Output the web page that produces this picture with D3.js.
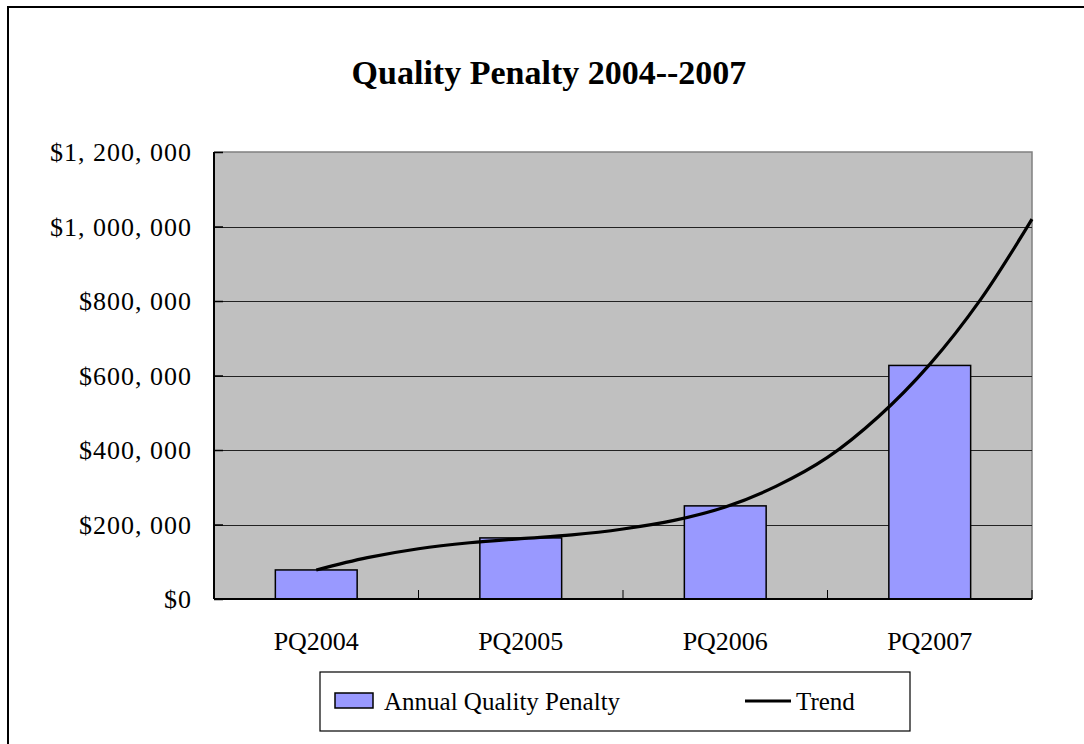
<!DOCTYPE html>
<html>
<head>
<meta charset="utf-8">
<script src="https://cdn.jsdelivr.net/npm/d3@7"></script>
<style>
  html, body { margin: 0; padding: 0; background: #fff; }
  svg { display: block; }
</style>
</head>
<body>
<svg id="chart" width="1084" height="744"></svg>
<script>
const title = "Quality Penalty 2004--2007";
const categories = ["PQ2004", "PQ2005", "PQ2006", "PQ2007"];
const penalty = [78000, 164000, 250000, 627000];
const seriesName = "Annual Quality Penalty";
const trendName = "Trend";
// trend line: position in category units (0 = PQ2004), value
const trendPos = [0, 0.25, 0.5, 0.75, 1.0, 1.25, 1.5, 1.75, 2.0, 2.25, 2.5, 2.75, 3.0, 3.25, 3.5];
const trendVals = [78000, 111000, 135000, 151000, 162000, 172000, 188000, 211000, 247000, 303000, 380000, 490000, 630000, 805000, 1020000];
const yTicks = [0, 200000, 400000, 600000, 800000, 1000000, 1200000];
const yTickLabels = ["$0", "$200, 000", "$400, 000", "$600, 000", "$800, 000", "$1, 000, 000", "$1, 200, 000"];

const svg = d3.select("#chart");
const L = 214, R = 1032, T = 152, B = 599;

// outer frame
svg.append("rect").attr("x", 8).attr("y", 7).attr("width", 1100).attr("height", 800)
  .attr("fill", "#fff").attr("stroke", "#000").attr("stroke-width", 2);

// title
svg.append("text").attr("x", 549).attr("y", 84).attr("text-anchor", "middle")
  .attr("font-family", "'Liberation Serif', 'Times New Roman', serif")
  .attr("font-weight", "bold").attr("font-size", 34).text(title);

const x = d3.scaleBand().domain(categories).range([L, R]).paddingInner(0.6).paddingOuter(0.3);
const y = d3.scaleLinear().domain([0, 1200000]).range([B, T]);
const step = x.step();
const x0 = x(categories[0]) + x.bandwidth() / 2;
const xPos = d3.scaleLinear().domain([0, 1]).range([x0, x0 + step]);

// plot area
svg.append("rect").attr("x", L).attr("y", T).attr("width", R - L).attr("height", B - T)
  .attr("fill", "#C0C0C0");
svg.append("path").attr("d", `M${L},${T}H${R}V${B}`).attr("fill", "none").attr("stroke", "#808080").attr("stroke-width", 1.5);

// gridlines
svg.append("g").selectAll("line").data(yTicks.filter(d => d > 0 && d < 1200000)).join("line")
  .attr("x1", L).attr("x2", R).attr("y1", d => Math.round(y(d)) + 0.5).attr("y2", d => Math.round(y(d)) + 0.5)
  .attr("stroke", "#222").attr("stroke-width", 1);

// y axis
const yAxis = d3.axisRight(y).tickValues(yTicks).tickSize(9).tickFormat("");
const gy = svg.append("g").attr("transform", `translate(${L},0)`).call(yAxis);
gy.select(".domain").remove();
gy.selectAll(".tick line").attr("stroke", "#000").attr("stroke-width", 1.5);
svg.append("line").attr("x1", L).attr("x2", L).attr("y1", T).attr("y2", B).attr("stroke", "#000").attr("stroke-width", 2);

svg.append("g").selectAll("text").data(yTicks).join("text")
  .attr("x", 192).attr("y", d => y(d) + 9).attr("text-anchor", "end")
  .attr("font-family", "'Liberation Serif', 'Times New Roman', serif").attr("font-size", 26)
  .attr("letter-spacing", 1)
  .text((d, i) => yTickLabels[i]);

// bars
svg.append("g").selectAll("rect").data(penalty).join("rect")
  .attr("x", (d, i) => x(categories[i])).attr("width", x.bandwidth())
  .attr("y", d => y(d)).attr("height", d => B - y(d))
  .attr("fill", "#9999FF").attr("stroke", "#000").attr("stroke-width", 1.5);

// x axis
const boundaries = d3.range(categories.length + 1).map(i => L + i * step);
svg.append("g").selectAll("line").data(boundaries).join("line")
  .attr("x1", d => d).attr("x2", d => d).attr("y1", B).attr("y2", B - 9)
  .attr("stroke", "#000").attr("stroke-width", 1);
svg.append("line").attr("x1", L).attr("x2", R).attr("y1", B).attr("y2", B).attr("stroke", "#000").attr("stroke-width", 2);

svg.append("g").selectAll("text").data(categories).join("text")
  .attr("x", d => x(d) + x.bandwidth() / 2).attr("y", 650).attr("text-anchor", "middle")
  .attr("font-family", "'Liberation Serif', 'Times New Roman', serif").attr("font-size", 26)
  .text(d => d);

// trend line
const trendData = trendPos.map((p, i) => [p, trendVals[i]]);
svg.append("path").datum(trendData)
  .attr("d", d3.line().x(d => xPos(d[0])).y(d => y(d[1])).curve(d3.curveCatmullRom))
  .attr("fill", "none").attr("stroke", "#000").attr("stroke-width", 3.2);

// legend
const lg = svg.append("g");
lg.append("rect").attr("x", 320).attr("y", 672).attr("width", 590).attr("height", 59)
  .attr("fill", "#fff").attr("stroke", "#000").attr("stroke-width", 1.2);
lg.append("rect").attr("x", 335).attr("y", 693).attr("width", 38).attr("height", 15)
  .attr("fill", "#9999FF").attr("stroke", "#000").attr("stroke-width", 1.5);
lg.append("text").attr("x", 384).attr("y", 710)
  .attr("font-family", "'Liberation Serif', 'Times New Roman', serif").attr("font-size", 25)
  .text(seriesName);
lg.append("line").attr("x1", 745).attr("x2", 791).attr("y1", 701).attr("y2", 701)
  .attr("stroke", "#000").attr("stroke-width", 3.2);
lg.append("text").attr("x", 796).attr("y", 710)
  .attr("font-family", "'Liberation Serif', 'Times New Roman', serif").attr("font-size", 25)
  .text(trendName);
</script>
</body>
</html>
